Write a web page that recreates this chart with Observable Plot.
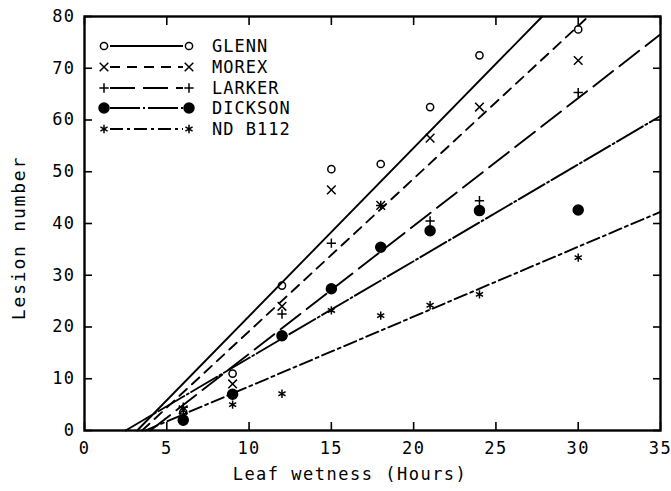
<!DOCTYPE html>
<html><head><meta charset="utf-8">
<script src="https://cdn.jsdelivr.net/npm/d3@7"></script>
<script src="https://cdn.jsdelivr.net/npm/@observablehq/plot@0.6"></script>
<style>
body{margin:0;background:#fff;}
#wrap{position:relative;width:671px;height:491px;background:#fff;}
#wrap svg{display:block;}
#overlay{position:absolute;left:0;top:0;pointer-events:none;}
</style></head><body><div id="wrap"></div>
<script>
// ---- data ----
const cultivars = ["GLENN", "MOREX", "LARKER", "DICKSON", "ND B112"];
const hours = [6, 9, 12, 15, 18, 21, 24, 30];
const glenn   = [3.5, 11, 28, 50.5, 51.5, 62.5, 72.5, 77.5];
const morex   = [4, 9, 24, 46.5, 43.5, 56.5, 62.5, 71.5];
const larker  = [4.5, 7, 22.5, 36.2, 43.5, 40.5, 44.4, 65.3];
const dickson = [2, 7, 18.3, 27.4, 35.4, 38.6, 42.5, 42.6];
const ndb112  = [3, 5, 7.1, 23.2, 22.2, 24.2, 26.3, 33.4];
// fitted regression lines: x-intercept (hours) and slope (lesions per hour)
const fitIntercept = [3.2, 3.5, 4.0, 2.5, 3.7];
const fitSlope     = [3.25, 2.95, 2.47, 1.87, 1.35];
const xTicks = [0, 5, 10, 15, 20, 25, 30, 35];
const yTicks = [0, 10, 20, 30, 40, 50, 60, 70, 80];
const xTitle = "Leaf wetness (Hours)";
const yTitle = "Lesion number";

// ---- styling ----
const series = [glenn, morex, larker, dickson, ndb112];
const symbols = ["circle", "times", "plus", "circle", "asterisk"];
const fills = ["none", "none", "none", "black", "none"];
const radii = [3.6, 4, 3.1, 5, 3.9];
const dashes = ["none", "10,7", "25,8", "30,3,2,3", "13,4,3,4"];
const font = "DejaVu Sans Mono";

const xMax = 35, yMax = 80;
const marks = [];
series.forEach((vals, i) => {
  const x0 = fitIntercept[i], s = fitSlope[i];
  const xEnd = Math.min(xMax, x0 + yMax / s);
  const seg = [{x: x0, y: 0}, {x: xEnd, y: s * (xEnd - x0)}];
  marks.push(Plot.line(seg, {x: "x", y: "y", stroke: "black", strokeWidth: 1.9, strokeDasharray: dashes[i]}));
});
series.forEach((vals, i) => {
  const pts = hours.map((h, j) => ({h, v: vals[j]}));
  marks.push(Plot.dot(pts, {x: "h", y: "v", symbol: symbols[i], r: radii[i],
    stroke: "black", fill: fills[i], strokeWidth: 1.5}));
});

const chart = Plot.plot({
  width: 671, height: 491,
  marginLeft: 84, marginRight: 11, marginTop: 16, marginBottom: 61,
  style: {fontFamily: font, fontSize: "17px", background: "#fff", color: "black"},
  x: {domain: [0, xMax]},
  y: {domain: [0, yMax]},
  marks: [
    ...marks,
    Plot.axisX(xTicks, {anchor: "bottom", tickSize: -8, tickPadding: 19, label: null, fontSize: 17, strokeWidth: 1.6}),
    Plot.axisX(xTicks, {anchor: "top", tickSize: -8, tickFormat: () => "", label: null, strokeWidth: 1.6}),
    Plot.axisY(yTicks, {anchor: "left", tickSize: -8, tickPadding: 17, label: null, fontSize: 17, strokeWidth: 1.6}),
    Plot.axisY(yTicks, {anchor: "right", tickSize: -8, tickFormat: () => "", label: null, strokeWidth: 1.6}),
    Plot.frame({stroke: "black", strokeWidth: 2.4})
  ]
});
d3.select(chart).selectAll("text").style("letter-spacing", "1.4px");
document.getElementById("wrap").appendChild(chart);

// ---- overlay: axis titles and legend ----
const ov = d3.select("#wrap").append("svg").attr("id", "overlay")
  .attr("width", 671).attr("height", 491);
ov.append("text").attr("x", 350).attr("y", 474).attr("dy", "0.36em")
  .attr("text-anchor", "middle").attr("font-family", font).attr("font-size", 17)
  .style("letter-spacing", "1.5px").text(xTitle);
ov.append("text").attr("transform", "translate(19,238) rotate(-90)").attr("dy", "0.36em")
  .attr("text-anchor", "middle").attr("font-family", font).attr("font-size", 18)
  .style("letter-spacing", "1.8px").text(yTitle);

const rowY = [46, 67, 88, 108, 129];
cultivars.forEach((name, i) => {
  const y = rowY[i];
  ov.append("line").attr("x1", 110).attr("x2", 183).attr("y1", y).attr("y2", y)
    .attr("stroke", "black").attr("stroke-width", 1.9)
    .attr("stroke-dasharray", dashes[i] === "none" ? null : dashes[i]);
  const sym = {circle: d3.symbolCircle, times: d3.symbolTimes, plus: d3.symbolPlus, asterisk: d3.symbolAsterisk}[symbols[i]];
  const path = d3.symbol(sym, Math.PI * radii[i] * radii[i])();
  [104, 189].forEach(x => {
    ov.append("path").attr("d", path).attr("transform", `translate(${x},${y})`)
      .attr("stroke", "black").attr("stroke-width", 1.5)
      .attr("fill", fills[i] === "none" ? "white" : "black");
  });
  ov.append("text").attr("x", 212).attr("y", y).attr("dy", "0.36em")
    .attr("font-family", font).attr("font-size", 17).style("letter-spacing", "1px")
    .text(name);
});
</script></body></html>
